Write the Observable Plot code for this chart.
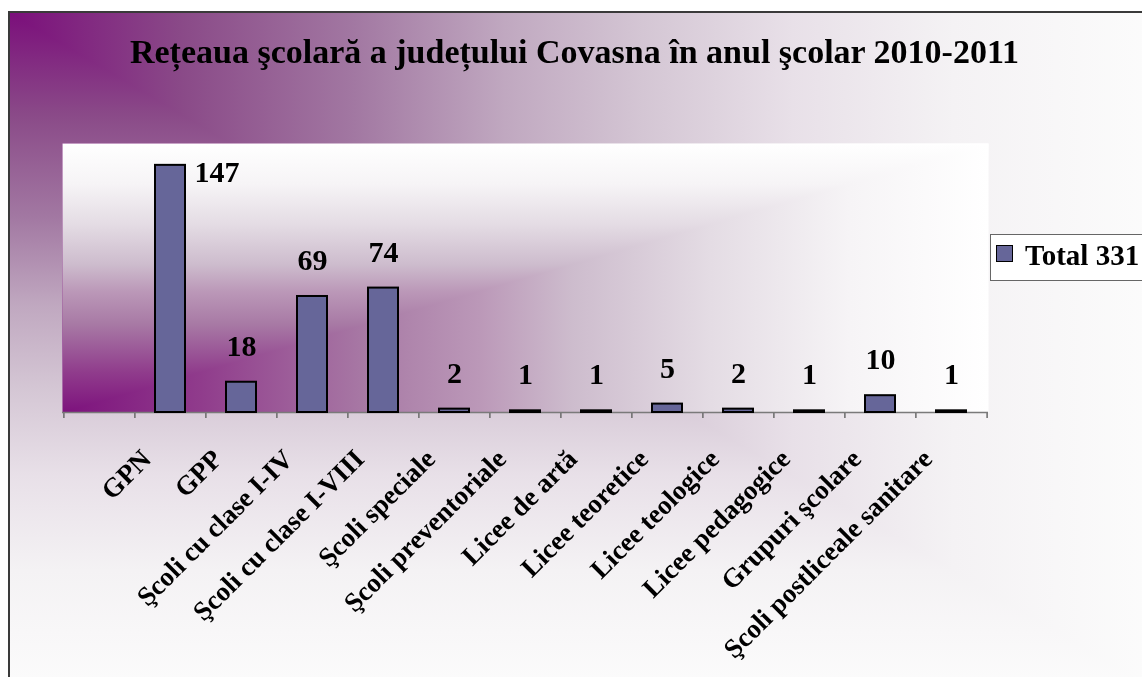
<!DOCTYPE html>
<html>
<head>
<meta charset="utf-8">
<script src="https://cdn.jsdelivr.net/npm/d3@7"></script>
<script src="https://cdn.jsdelivr.net/npm/@observablehq/plot@0.6"></script>
<style>
  html, body { margin: 0; padding: 0; }
  body { width: 1142px; height: 677px; overflow: hidden; background: #fff; position: relative;
         font-family: "Liberation Serif", "Times New Roman", serif; }
  #bg { position: absolute; left: 8px; top: 11px; width: 1150px; height: 680px;
        border-left: 2px solid #3a3a3a; border-top: 2px solid #3a3a3a;
        background-image:
          linear-gradient(to right, #7b0f7b 0%, #8a4a88 15%, #a278a2 30%, #c0a8c0 43%, #d4c6d4 55%,
            #e8e0e8 68%, #f4f2f4 82%, #fcfcfc 100%),
          linear-gradient(to bottom, #7b0f7b 0%, #8a4a88 15%, #a278a2 30%, #c0a8c0 43%, #d4c6d4 55%,
            #e8e0e8 68%, #f4f2f4 82%, #fcfcfc 100%);
        background-blend-mode: lighten; }
  #title { position: absolute; left: 0; width: 1149px; top: 35px; text-align: center;
           font-weight: bold; font-size: 34px; line-height: 34px; color: #000; white-space: nowrap; }
  #chart { position: absolute; left: 0; top: 0; }
  #legend { position: absolute; left: 990px; top: 234px; width: 170px; height: 47px;
            background: #fff; border: 1px solid #666; box-sizing: border-box; }
  #legend .sw { position: absolute; left: 5px; top: 10px; width: 15px; height: 15px;
                background: #666699; border: 1.5px solid #000; }
  #legend .lb { position: absolute; left: 34px; top: 4px; font-weight: bold; font-size: 29px;
                line-height: 32px; white-space: nowrap; }
</style>
</head>
<body>
<div id="bg"></div>
<div id="title"></div>
<div id="chart"></div>
<div id="legend"><div class="sw"></div><div class="lb"></div></div>
<script>
// ---- data ----
const titleText = "Rețeaua şcolară a județului Covasna în anul şcolar 2010-2011";
const categories = ["GPN", "GPP", "Şcoli cu clase I-IV", "Şcoli cu clase I-VIII", "Şcoli speciale",
  "Şcoli preventoriale", "Licee de artă", "Licee teoretice", "Licee teologice",
  "Licee pedagogice", "Grupuri şcolare", "Şcoli postliceale sanitare"];
const values = [147, 18, 69, 74, 2, 1, 1, 5, 2, 1, 10, 1];
const seriesName = "Total 331";
const yDomain = [0, 160];

// ---- layout ----
const W = 1142, H = 677;
const mL = 62, mR = 154, mT = 143, mB = 265;
const FONT = "Liberation Serif, Times New Roman, serif";
const domain = [" ", ...categories]; // leading empty category slot
const step = (W - mL - mR) / domain.length;

document.getElementById("title").textContent = titleText;
document.querySelector("#legend .lb").textContent = seriesName;

const data = categories.map((c, i) => ({category: c, value: values[i]}));
const bigCut = yDomain[1] * 0.8;

const svg = Plot.plot({
  width: W, height: H,
  marginLeft: mL, marginRight: mR, marginTop: mT, marginBottom: mB,
  style: {background: "transparent", fontFamily: FONT, overflow: "visible"},
  x: {domain, paddingInner: 0.58, paddingOuter: 0.29, label: null},
  y: {domain: yDomain, axis: null},
  marks: [
    Plot.frame({fill: "url(#paGradH)", stroke: "none"}),
    Plot.frame({fill: "url(#paGradV)", stroke: "none", mixBlendMode: "lighten"}),
    Plot.axisX({tickSize: 6, tickFormat: () => "", dx: -step / 2, stroke: "#6a6a6a", strokeWidth: 1.5}),
    Plot.axisX([domain[domain.length - 1]], {tickSize: 6, tickFormat: () => "", dx: step / 2, stroke: "#6a6a6a", strokeWidth: 1.5}),
    Plot.ruleY([0], {stroke: "#7a7a7a", strokeWidth: 1.5}),
    Plot.axisX({tickSize: 0, tickPadding: 42, tickRotate: -45, dx: -24, fontSize: 27, fontWeight: "bold",
      fontFamily: FONT, fill: "#000"}),
    Plot.barY(data, {x: "category", y: "value", fill: "#666699", stroke: "#000", strokeWidth: 2}),
    Plot.text(data.filter(d => d.value < bigCut), {x: "category", y: "value", text: d => String(d.value),
      dy: -36, fontSize: 30, fontWeight: "bold", fontFamily: FONT, fill: "#000"}),
    Plot.text(data.filter(d => d.value >= bigCut), {x: "category", y: "value", text: d => String(d.value),
      textAnchor: "start", dx: 24, dy: 7, fontSize: 30, fontWeight: "bold", fontFamily: FONT, fill: "#000"})
  ]
});

const stops = `
  <stop offset="0" stop-color="#7d127d"/>
  <stop offset="0.15" stop-color="#903c8c"/>
  <stop offset="0.33" stop-color="#a87aa5"/>
  <stop offset="0.45" stop-color="#bb98b8"/>
  <stop offset="0.55" stop-color="#cdbccd"/>
  <stop offset="0.7" stop-color="#e4dce4"/>
  <stop offset="0.85" stop-color="#f6f4f6"/>
  <stop offset="1" stop-color="#ffffff"/>`;
const ns = "http://www.w3.org/2000/svg";
const defs = document.createElementNS(ns, "defs");
defs.innerHTML = `<linearGradient id="paGradH" x1="0" y1="0" x2="1" y2="0">${stops}</linearGradient>
<linearGradient id="paGradV" x1="0" y1="1" x2="0" y2="0">${stops}</linearGradient>`;
svg.insertBefore(defs, svg.firstChild);
document.getElementById("chart").appendChild(svg);
</script>
</body>
</html>
